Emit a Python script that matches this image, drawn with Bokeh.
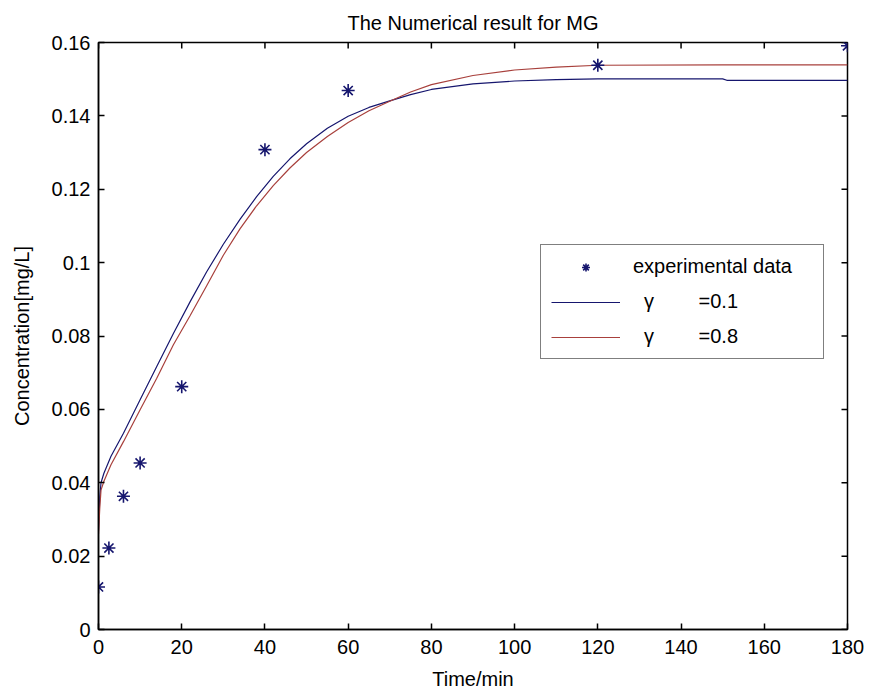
import math
from bokeh.plotting import figure
from bokeh.models import Range1d, FixedTicker, Legend, LegendItem
from bokeh.embed import file_html
from bokeh.resources import INLINE

# ---- data ----
exp_time = [0, 2.5, 6, 10, 20, 40, 60, 120, 180]
exp_conc = [0.0116, 0.0222, 0.0363, 0.0454, 0.0662, 0.1308, 0.1469, 0.1538, 0.1591]

model_time = [0, 0.3, 0.6, 1.3, 3, 6, 10, 14, 18, 22, 26, 30, 34, 38, 42, 46, 50,
              55, 60, 65, 70, 75, 80, 90, 100, 110, 120, 150, 151, 180]
gamma01 = [0.027, 0.036, 0.040, 0.0426, 0.0472, 0.0535, 0.0626, 0.0717, 0.0807,
           0.0893, 0.0975, 0.1050, 0.1118, 0.1180, 0.1235, 0.1283, 0.1324,
           0.1366, 0.1399, 0.1423, 0.1441, 0.1458, 0.1472, 0.1487, 0.1495,
           0.1499, 0.1501, 0.1501, 0.1497, 0.1497]
gamma08 = [0.026, 0.033, 0.038, 0.0404, 0.0449, 0.0512, 0.0599, 0.0685, 0.0776,
           0.0855, 0.0937, 0.1020, 0.1092, 0.1155, 0.1210, 0.1258, 0.1300,
           0.1344, 0.1382, 0.1414, 0.1440, 0.1465, 0.1485, 0.1510, 0.1525,
           0.1533, 0.1538, 0.1539, 0.1539, 0.1539]

x_ticks = [0, 20, 40, 60, 80, 100, 120, 140, 160, 180]
y_ticks = [0, 0.02, 0.04, 0.06, 0.08, 0.1, 0.12, 0.14, 0.16]
y_tick_labels = ["0", "0.02", "0.04", "0.06", "0.08", "0.1", "0.12", "0.14", "0.16"]
legend_labels = ["experimental data", "  \u03b3        =0.1", "  \u03b3        =0.8"]

FONT = "Liberation Sans"
FS = "20px"
X_MIN, X_MAX = 0, 180
Y_MIN, Y_MAX = 0, 0.16

p = figure(width=870, height=696, output_backend="svg", toolbar_location=None,
           x_range=Range1d(X_MIN, X_MAX), y_range=Range1d(Y_MIN, Y_MAX),
           min_border_left=98, min_border_right=23, min_border_top=42,
           min_border_bottom=67, title="The Numerical result for MG")
p.title.align = "center"
p.title.text_font = FONT
p.title.text_font_size = FS
p.title.text_font_style = "normal"
p.title.text_color = "black"
p.title.standoff = 18

p.xgrid.visible = False
p.ygrid.visible = False
p.outline_line_color = "black"
p.outline_line_width = 1.5
p.background_fill_color = "white"
p.border_fill_color = "white"

def style(ax):
    ax.major_tick_in = 6
    ax.major_tick_out = 0
    ax.minor_tick_line_color = None
    ax.major_tick_line_color = "black"
    ax.major_tick_line_width = 1.5
    ax.axis_line_color = "black"
    ax.axis_line_width = 1.5
    ax.major_label_text_font = FONT
    ax.major_label_text_font_size = FS
    ax.major_label_text_color = "black"
    ax.axis_label_text_font = FONT
    ax.axis_label_text_font_size = FS
    ax.axis_label_text_font_style = "normal"
    ax.axis_label_text_color = "black"

xa = p.xaxis[0]
ya = p.yaxis[0]
xa.ticker = FixedTicker(ticks=x_ticks)
ya.ticker = FixedTicker(ticks=y_ticks)
ya.major_label_overrides = {t: l for t, l in zip(y_ticks, y_tick_labels)}
xa.axis_label = "Time/min"
ya.axis_label = "Concentration[mg/L]"
style(xa)
style(ya)
xa.major_label_standoff = 10
xa.axis_label_standoff = 11
ya.major_label_standoff = 8
ya.axis_label_standoff = 16

# inward ticks on the top and right edges of the box
p.ray(x=x_ticks, y=[Y_MAX] * len(x_ticks), length=6, length_units="screen",
      angle=-math.pi / 2, line_color="black", line_width=1.5)
p.ray(x=[X_MAX] * len(y_ticks), y=y_ticks, length=6, length_units="screen",
      angle=math.pi, line_color="black", line_width=1.5)

NAVY = "#16166e"
RED = "#a8403c"

r_b = p.line(model_time, gamma01, line_color=NAVY, line_width=1.2)
r_r = p.line(model_time, gamma08, line_color=RED, line_width=1.2)
r_exp = p.scatter(exp_time, exp_conc, marker="asterisk", size=13,
                  line_color=NAVY, line_width=1.6)

legend = Legend(items=[LegendItem(label=legend_labels[0], renderers=[r_exp]),
                       LegendItem(label=legend_labels[1], renderers=[r_b]),
                       LegendItem(label=legend_labels[2], renderers=[r_r])],
                location=(442, 270))
legend.label_text_font = FONT
legend.label_text_font_size = FS
legend.label_text_color = "black"
legend.glyph_width = 69
legend.glyph_height = 20
legend.label_height = 20
legend.label_width = 180
legend.label_standoff = 13
legend.spacing = 12
legend.padding = 10
legend.margin = 0
legend.border_line_color = "black"
legend.border_line_width = 1.5
legend.background_fill_alpha = 1.0
p.add_layout(legend, "center")

open("out.html", "w").write(file_html(p, INLINE))
